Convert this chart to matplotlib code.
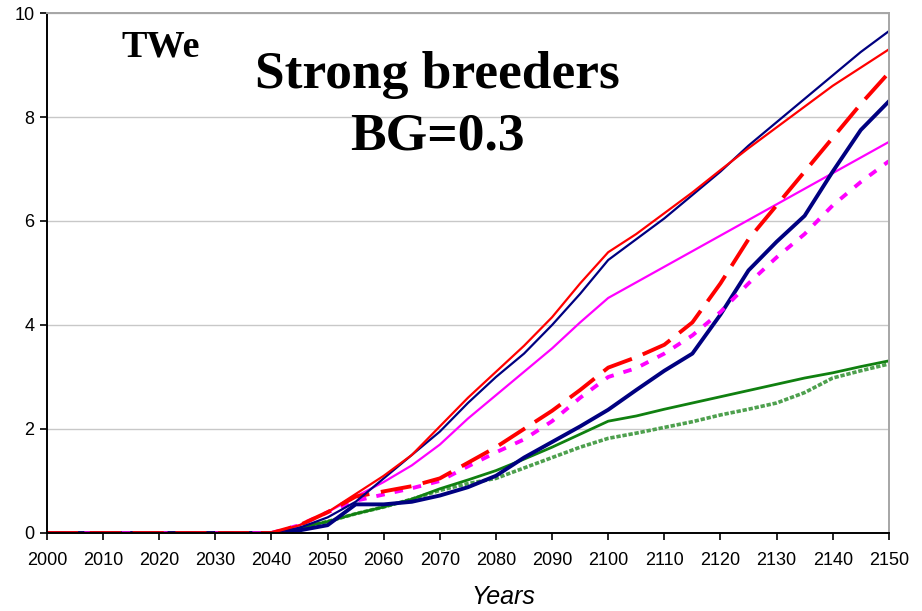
import matplotlib
matplotlib.use("Agg")
from matplotlib import pyplot as plt
import numpy as np

# годы: до 2040 все кривые нулевые, дальше шаг 5 лет
years = [2000, 2010, 2020, 2030, 2040, 2045, 2050, 2055, 2060, 2065, 2070, 2075,
         2080, 2085, 2090, 2095, 2100, 2105, 2110, 2115, 2120, 2125, 2130,
         2135, 2140, 2145, 2150]

navy_thin = [0, 0, 0, 0, 0, 0.1, 0.3, 0.6, 1.05, 1.5, 1.95, 2.5,
             3.0, 3.45, 4.0, 4.6, 5.25, 5.65, 6.05, 6.5, 6.95, 7.45, 7.9,
             8.35, 8.8, 9.25, 9.65]
red_thin = [0, 0, 0, 0, 0, 0.15, 0.4, 0.75, 1.1, 1.5, 2.05, 2.6,
            3.1, 3.6, 4.15, 4.8, 5.4, 5.75, 6.15, 6.55, 6.98, 7.4, 7.8,
            8.2, 8.6, 8.95, 9.3]
magenta_thin = [0, 0, 0, 0, 0, 0.15, 0.4, 0.7, 0.98, 1.3, 1.7, 2.2,
                2.65, 3.1, 3.55, 4.05, 4.52, 4.82, 5.12, 5.42, 5.72, 6.02, 6.32,
                6.62, 6.92, 7.22, 7.52]
red_dash = [0, 0, 0, 0, 0, 0.15, 0.4, 0.7, 0.8, 0.9, 1.05, 1.35,
            1.65, 2.0, 2.35, 2.75, 3.18, 3.38, 3.62, 4.05, 4.8, 5.65, 6.3,
            6.95, 7.6, 8.25, 8.85]
magenta_dot = [0, 0, 0, 0, 0, 0.15, 0.4, 0.62, 0.74, 0.86, 1.0, 1.28,
               1.55, 1.8, 2.15, 2.6, 3.0, 3.17, 3.45, 3.8, 4.25, 4.8, 5.3,
               5.75, 6.3, 6.75, 7.15]
navy_thick = [0, 0, 0, 0, 0, 0.05, 0.15, 0.55, 0.55, 0.6, 0.72, 0.88,
              1.1, 1.45, 1.75, 2.05, 2.37, 2.75, 3.12, 3.45, 4.2, 5.05, 5.6,
              6.1, 6.95, 7.75, 8.3]
green = [0, 0, 0, 0, 0, 0.1, 0.22, 0.37, 0.5, 0.65, 0.85, 1.02,
         1.2, 1.42, 1.65, 1.9, 2.15, 2.25, 2.38, 2.5, 2.62, 2.74, 2.86,
         2.98, 3.08, 3.2, 3.31]
green_dot = [0, 0, 0, 0, 0, 0.1, 0.22, 0.37, 0.5, 0.65, 0.82, 0.95,
             1.05, 1.25, 1.45, 1.65, 1.82, 1.92, 2.03, 2.14, 2.27, 2.38, 2.5,
             2.7, 2.98, 3.12, 3.25]

x_ticks = np.arange(2000, 2151, 10)
y_ticks = [0, 2, 4, 6, 8, 10]

plt.rcParams['font.family'] = ['Liberation Sans', 'DejaVu Sans']

fig = plt.figure(figsize=(9.22, 6.11), dpi=100)
ax = fig.add_axes([0.051, 0.1277, 0.913, 0.851])

ax.plot(years, green_dot, color='#4ea04e', lw=2.6, ls=(0, (1.2, 0.5)))
ax.plot(years, green, color='#108010', lw=2.0)
ax.plot(years, magenta_thin, color='#ff00ff', lw=1.6)
ax.plot(years, navy_thick, color='#000080', lw=2.8)
ax.plot(years, magenta_dot, color='#ff00ff', lw=2.8, ls=(0, (2.2, 2.6)))
ax.plot(years, red_dash, color='#ff0000', lw=2.8, ls=(0, (8, 3)))
ax.plot(years, navy_thin, color='#000080', lw=1.6)
ax.plot(years, red_thin, color='#ff0000', lw=1.6)

ax.set_xlim(2000, 2150)
ax.set_ylim(0, 10)
ax.set_xticks(x_ticks)
ax.set_yticks(y_ticks)
ax.tick_params(axis='both', direction='out', length=5, width=1.2,
               labelsize=13, colors='black')
ax.tick_params(axis='x', pad=9)
ax.tick_params(axis='y', pad=4)
ax.yaxis.grid(True, color='#c8c8c8', lw=1)
ax.set_axisbelow(True)

for side in ['left', 'bottom']:
    ax.spines[side].set_color('black')
    ax.spines[side].set_linewidth(1.4)
for side in ['top', 'right']:
    ax.spines[side].set_color('#a6a6a6')
    ax.spines[side].set_linewidth(1.4)

ax.text(2020.3, 9.35, 'TWe', family='Liberation Serif', weight='bold',
        fontsize=27.5, ha='center', va='center')
ax.text(2069.5, 8.8, 'Strong breeders', family='Liberation Serif',
        weight='bold', fontsize=38.5, ha='center', va='center')
ax.text(2069.5, 7.62, 'BG=0.3', family='Liberation Serif',
        weight='bold', fontsize=38.5, ha='center', va='center')

fig.text(503 / 922, 1 - 597 / 611, 'Years', style='italic', fontsize=18,
         ha='center', va='center')

plt.savefig('out.png', dpi=100)
